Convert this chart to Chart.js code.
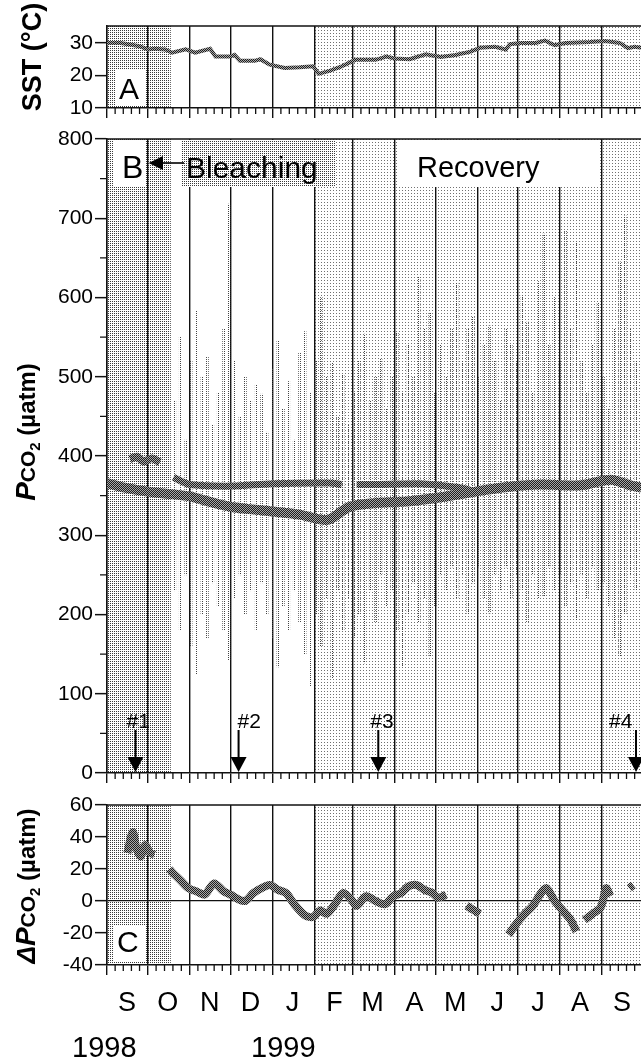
<!DOCTYPE html>
<html>
<head>
<meta charset="utf-8">
<title>SST and pCO2, 1998-1999</title>
<script src="https://cdn.jsdelivr.net/npm/chart.js@4.4.1/dist/chart.umd.min.js"></script>
<style>
  html, body { margin: 0; padding: 0; background: #fff; }
  body { width: 641px; height: 1061px; overflow: hidden; position: relative; }
  canvas { position: absolute; left: 0; }
</style>
</head>
<body>
<canvas id="sst" width="660" height="130" style="top:0px"></canvas>
<canvas id="pco2" width="660" height="680" style="top:115px"></canvas>
<canvas id="dpco2" width="660" height="281" style="top:780px"></canvas>
<script>
// days counted from 1 Sep 1998
const monthStarts = [0, 30, 61, 91, 122, 153, 181, 212, 242, 273, 303, 334, 365];
const monthLetters = ['S', 'O', 'N', 'D', 'J', 'F', 'M', 'A', 'M', 'J', 'J', 'A', 'S'];
const yearLabels = ['1998', '1999'];
const yearDays = [-2, 130];
const shadeDense = [0, 47];
const shadeLight = [153, 404];

// A: sea surface temperature
const sstDays = [0, 10, 17, 24, 30, 35, 43, 48, 58, 65, 76, 80, 91, 94, 98, 109, 113, 120, 131, 142,
  152, 156, 164, 172, 178, 183, 198, 206, 212, 223, 235, 246, 257, 268, 275, 286, 294, 297, 305, 316,
  323, 330, 338, 356, 367, 378, 384, 389, 394];
const sstVals = [30, 30, 29.5, 29, 28, 28.2, 28, 27, 28, 27, 28.2, 25.8, 25.8, 26.3, 24.5, 24.5, 25, 23.3, 22.3, 22.5,
  22.8, 20.5, 21.4, 22.6, 23.8, 24.8, 24.8, 25.8, 25.2, 25, 26.5, 25.7, 26.3, 27.3, 28.5, 28.8, 28, 29.6, 30, 30,
  30.7, 29.3, 30, 30.3, 30.6, 30, 28.4, 28.8, 28.5];
const sstTicks = [10, 20, 30];

// B: daily pCO2 range (min / max)
const rangeDays = [50, 54, 58, 62, 66, 70, 74, 78, 82, 86, 90, 94, 98, 102, 106, 110, 114, 118, 122, 126,
  130, 134, 138, 142, 146, 150, 154, 158, 162, 166, 170, 174, 178, 182, 186, 190, 194, 198, 202, 206,
  210, 214, 218, 222, 226, 230, 234, 238, 242, 246, 250, 254, 258, 262, 266, 270, 274, 278, 282, 286,
  290, 294, 298, 302, 306, 310, 314, 318, 322, 326, 330, 334, 338, 342, 346, 350, 354, 358, 362, 366,
  370, 374, 378, 382, 386, 390];
const rangeMax = [470, 550, 420, 520, 583, 500, 525, 440, 480, 560, 718, 520, 450, 500, 470, 490, 478, 430, 510, 545,
  460, 494, 420, 530, 557, 480, 520, 600, 500, 518, 450, 502, 440, 480, 520, 554, 470, 500, 522, 460,
  500, 556, 480, 540, 500, 626, 560, 581, 480, 540, 500, 560, 619, 520, 560, 575, 500, 540, 564, 520,
  470, 560, 540, 520, 602, 569, 480, 620, 680, 540, 600, 520, 684, 560, 670, 520, 480, 540, 594, 500,
  460, 560, 645, 703, 560, 520];
const rangeMin = [230, 180, 250, 160, 124, 200, 170, 240, 210, 180, 143, 220, 250, 200, 230, 181, 240, 200, 170, 134,
  210, 180, 230, 191, 150, 110, 200, 160, 220, 120, 230, 180, 220, 170, 200, 139, 230, 190, 250, 210,
  230, 180, 134, 200, 240, 190, 220, 147, 210, 250, 231, 260, 220, 250, 200, 240, 260, 220, 202, 250,
  230, 260, 220, 250, 230, 191, 250, 220, 223, 260, 230, 250, 210, 240, 193, 250, 220, 260, 230, 240,
  210, 170, 147, 200, 250, 230];

// B: smoothed daily means
const lowDays = [0, 4, 13, 30, 46, 61, 76, 91, 105, 122, 142, 157, 164, 179, 201, 223, 246, 268, 290, 319, 349, 371, 386, 394];
const lowVals = [366, 364, 360, 355, 352, 349, 342, 336, 333, 330, 326, 320, 320, 336, 341, 343, 348, 354, 360, 364, 363, 370, 363, 360];
const highDays = [49, 55, 61, 91, 122, 164, 173, 174, 184, 201, 231, 260, 270];
const highVals = [373, 368, 364, 362, 365, 366, 364, null, 364, 364, 365, 360, 356];
const earlyDays = [17, 22, 27, 33, 39];
const earlyVals = [396, 399, 393, 397, 392];
const pco2Ticks = [0, 100, 200, 300, 400, 500, 600, 700, 800];

// B: sampling events
const eventDays = [21, 97, 200, 390];
const eventLabels = ['#1', '#2', '#3', '#4'];

// C: delta pCO2
const dpDays = [15, 19, 22, 25, 28, 32, 35, 36,
  46, 48, 54, 60, 66, 72, 79, 86, 91, 97, 102, 108, 114, 120, 126, 132, 138, 146, 152, 157,
  162, 168, 174, 180, 184, 191, 198, 205, 211, 217, 222, 228, 234, 240, 244, 250, 251,
  265, 271, 275, 276,
  296, 302, 308, 314, 320, 324, 330, 336, 342, 346, 347,
  352, 358, 364, 368, 371, 372,
  385, 388];
const dpVals = [30, 43, 32, 28, 35, 30, 29, null,
  20, 18, 13, 8, 6, 4, 11, 6, 4, 1, 0, 5, 8, 10, 7, 5, -2, -9, -10, -6,
  -8, -2, 5, 1, -3, 3, 0, -2, 3, 5, 9, 10, 7, 5, 2, 4, null,
  -3, -6, -8, null,
  -21, -14, -8, -3, 5, 8, 0, -6, -12, -19, null,
  -12, -8, -4, 8, 3, null,
  8, 10];
const dpTicks = [-40, -20, 0, 20, 40, 60];

const X_MAX = 404;
const FONT = "'Liberation Sans', Arial, Helvetica, sans-serif";

const pctx = document.createElement('canvas').getContext('2d');
function pattern(size, dots, color, bg) {
  const c = document.createElement('canvas');
  c.width = c.height = size;
  const g = c.getContext('2d');
  if (bg) { g.fillStyle = bg; g.fillRect(0, 0, size, size); }
  g.fillStyle = color;
  dots.forEach(d => g.fillRect(d[0], d[1], 1, 1));
  return pctx.createPattern(c, 'repeat');
}
const densePat = pattern(2, [[0, 0]], '#3a3a3a');
const lightPat = pattern(3, [[0, 0]], '#707070');
const hatchPat = pattern(2, [[0, 0], [1, 1]], '#1e1e1e', '#a8a8a8');
const barPat = pattern(2, [[0, 0]], '#444');

function pairs(xs, ys) {
  return xs.map((x, i) => ({ x: x, y: ys[i] }));
}

function xAxis(h, showLabels) {
  return {
    type: 'linear', min: 0, max: X_MAX, z: 1, offset: false,
    afterBuildTicks: s => { s.ticks = monthStarts.map(v => ({ value: v })); },
    afterFit: s => { s.height = h; },
    grid: { offset: false, color: '#111', lineWidth: 1.4, tickLength: 10, tickColor: '#111', tickWidth: 1.4 },
    border: { color: '#111', width: 1.5 },
    ticks: {
      display: showLabels, autoSkip: false, maxRotation: 0, minRotation: 0,
      labelOffset: 20, padding: 12, color: '#000',
      font: { family: FONT, size: 27 },
      callback: (v, i) => monthLetters[i]
    }
  };
}

function yAxis(min, max, tickVals, zeroLine) {
  return {
    type: 'linear', min: min, max: max,
    afterBuildTicks: s => { s.ticks = tickVals.map(v => ({ value: v })); },
    afterFit: s => { s.width = 107; },
    grid: {
      drawOnChartArea: !!zeroLine,
      color: c => (c.tick && c.tick.value === 0) ? '#111' : 'rgba(0,0,0,0)',
      lineWidth: 1.3, tickLength: 12, tickColor: '#111', tickWidth: 1.5
    },
    border: { color: '#111', width: 1.5 },
    ticks: { color: '#000', padding: 2, font: { family: FONT, size: 21 } }
  };
}

function shade(chart) {
  const { ctx, chartArea: a, scales: { x } } = chart;
  ctx.save();
  ctx.beginPath();
  ctx.rect(a.left, a.top, a.right - a.left, a.bottom - a.top);
  ctx.clip();
  const d0 = x.getPixelForValue(shadeDense[0]), d1 = x.getPixelForValue(shadeDense[1]);
  ctx.fillStyle = densePat;
  ctx.fillRect(d0, a.top, d1 - d0, a.bottom - a.top);
  const l0 = x.getPixelForValue(shadeLight[0]), l1 = x.getPixelForValue(shadeLight[1]);
  ctx.fillStyle = lightPat;
  ctx.fillRect(l0, a.top, l1 - l0, a.bottom - a.top);
  ctx.restore();
}

function frame(chart, yMinor) {
  const { ctx, chartArea: a, scales: { x, y } } = chart;
  ctx.save();
  ctx.strokeStyle = '#111';
  ctx.lineWidth = 1.5;
  ctx.beginPath();
  ctx.moveTo(a.left, a.top);
  ctx.lineTo(a.right, a.top);
  ctx.stroke();
  ctx.lineWidth = 1.3;
  ctx.beginPath();
  monthStarts.forEach((m, i) => {
    const next = i + 1 < monthStarts.length ? monthStarts[i + 1] : m + 30;
    for (let k = 1; k < 5; k++) {
      const px = x.getPixelForValue(m + (next - m) * k / 5);
      ctx.moveTo(px, a.bottom);
      ctx.lineTo(px, a.bottom + 6);
    }
  });
  (yMinor || []).forEach(v => {
    const py = y.getPixelForValue(v);
    ctx.moveTo(a.left - 7, py);
    ctx.lineTo(a.left, py);
  });
  ctx.stroke();
  ctx.restore();
}

function axisTitle(ctx, bx, cy, parts) {
  ctx.save();
  ctx.translate(bx, cy);
  ctx.rotate(-Math.PI / 2);
  let w = 0;
  parts.forEach(p => { ctx.font = p.font; p.w = ctx.measureText(p.t).width; w += p.w; });
  let tx = -w / 2;
  ctx.fillStyle = '#000';
  ctx.textBaseline = 'alphabetic';
  parts.forEach(p => { ctx.font = p.font; ctx.fillText(p.t, tx, p.dy || 0); tx += p.w; });
  ctx.restore();
}

function panelLetter(ctx, letter, box, baseX, baseY, size) {
  ctx.save();
  ctx.fillStyle = '#fff';
  ctx.fillRect(box[0], box[1], box[2], box[3]);
  ctx.fillStyle = '#000';
  ctx.font = size + 'px ' + FONT;
  ctx.textBaseline = 'alphabetic';
  ctx.fillText(letter, baseX, baseY);
  ctx.restore();
}

const pco2Parts = [
  { t: 'P', font: 'italic bold 28px ' + FONT },
  { t: 'CO', font: 'bold 21px ' + FONT },
  { t: '2', font: 'bold 15px ' + FONT, dy: 5 },
  { t: ' (\u00b5atm)', font: 'bold 24px ' + FONT }
];

const common = {
  responsive: false, animation: false, devicePixelRatio: 1,
  plugins: { legend: { display: false }, tooltip: { enabled: false } }
};

// ---------- A ----------
new Chart(document.getElementById('sst'), {
  type: 'line',
  data: {
    datasets: [{
      data: pairs(sstDays, sstVals), borderColor: hatchPat, borderWidth: 4,
      pointRadius: 0, tension: 0
    }]
  },
  options: Object.assign({}, common, {
    layout: { padding: { top: 26, right: 5, left: 0, bottom: 0 } },
    scales: { x: xAxis(22, false), y: yAxis(10, 35.2, sstTicks, false) }
  }),
  plugins: [{
    id: 'decorA',
    beforeDraw: shade,
    afterDraw(chart) {
      frame(chart);
      const ctx = chart.ctx;
      panelLetter(ctx, 'A', [115, 70, 31, 36], 119, 99, 30);
      axisTitle(ctx, 41, 57, [{ t: 'SST (\u00b0C)', font: 'bold 27px ' + FONT }]);
    }
  }]
});

// ---------- B ----------
new Chart(document.getElementById('pco2'), {
  data: {
    datasets: [
      { type: 'line', data: pairs(lowDays, lowVals), borderColor: hatchPat, borderWidth: 10,
        pointRadius: 0, tension: 0.3, order: 1 },
      { type: 'line', data: pairs(highDays, highVals), borderColor: hatchPat, borderWidth: 7,
        pointRadius: 0, tension: 0.3, spanGaps: false, order: 1 },
      { type: 'line', data: pairs(earlyDays, earlyVals), borderColor: hatchPat, borderWidth: 8,
        pointRadius: 0, tension: 0.3, order: 1 },
      { type: 'bar', data: rangeDays.map((d, i) => ({ x: d, y: [rangeMin[i], rangeMax[i]] })),
        backgroundColor: barPat, barThickness: 2, order: 2 }
    ]
  },
  options: Object.assign({}, common, {
    layout: { padding: { top: 24, right: 5, left: 0, bottom: 0 } },
    scales: { x: xAxis(22, false), y: yAxis(0, 800, pco2Ticks, false) }
  }),
  plugins: [{
    id: 'decorB',
    beforeDraw: shade,
    afterDraw(chart) {
      const { ctx, chartArea: a, scales: { x } } = chart;
      frame(chart, [50, 150, 250, 350, 450, 550, 650, 750]);
      const top = a.top + 1;
      panelLetter(ctx, 'B', [113, top, 33, 46], 122, top + 38, 32);
      // Bleaching label
      ctx.save();
      ctx.fillStyle = '#fff';
      ctx.fillRect(182, top, 153, 47);
      ctx.fillStyle = densePat;
      ctx.fillRect(182, top, 153, 47);
      ctx.fillStyle = '#000';
      ctx.font = '30px ' + FONT;
      ctx.fillText('Bleaching', 186, top + 38);
      ctx.strokeStyle = '#000';
      ctx.lineWidth = 1.6;
      ctx.beginPath();
      ctx.moveTo(161, top + 23);
      ctx.lineTo(184, top + 23);
      ctx.stroke();
      ctx.beginPath();
      ctx.moveTo(x.getPixelForValue(monthStarts[1]) + 1, top + 23);
      ctx.lineTo(163, top + 16);
      ctx.lineTo(163, top + 30);
      ctx.closePath();
      ctx.fill();
      // Recovery label
      ctx.fillStyle = '#fff';
      ctx.fillRect(398, top, 200, 47);
      ctx.fillStyle = '#000';
      ctx.font = '29px ' + FONT;
      ctx.fillText('Recovery', 417, top + 37);
      // sampling arrows
      const offs = [-9, -1, -8, -27];
      eventDays.forEach((d, i) => {
        const px = x.getPixelForValue(d);
        ctx.fillStyle = '#000';
        ctx.fillRect(px - 1, a.bottom - 43, 2, 28);
        ctx.beginPath();
        ctx.moveTo(px - 8, a.bottom - 16);
        ctx.lineTo(px + 8, a.bottom - 16);
        ctx.lineTo(px, a.bottom - 1);
        ctx.closePath();
        ctx.fill();
        ctx.font = '21px ' + FONT;
        ctx.fillText(eventLabels[i], px + offs[i], a.bottom - 45);
      });
      ctx.restore();
      axisTitle(ctx, 35, 317, pco2Parts);
    }
  }]
});

// ---------- C ----------
new Chart(document.getElementById('dpco2'), {
  type: 'line',
  data: {
    datasets: [{
      data: pairs(dpDays, dpVals), borderColor: hatchPat, borderWidth: 8,
      pointRadius: 0, tension: 0.3, spanGaps: false
    }]
  },
  options: Object.assign({}, common, {
    layout: { padding: { top: 25, right: 5, left: 0, bottom: 0 } },
    scales: { x: xAxis(96, true), y: yAxis(-40, 60, dpTicks, true) }
  }),
  plugins: [{
    id: 'decorC',
    beforeDraw: shade,
    afterDraw(chart) {
      const { ctx, chartArea: a, scales: { x } } = chart;
      frame(chart);
      panelLetter(ctx, 'C', [113, 145, 32, 37], 117, 172, 30);
      ctx.save();
      ctx.fillStyle = '#000';
      ctx.font = '29px ' + FONT;
      ctx.textAlign = 'center';
      yearLabels.forEach((t, i) => ctx.fillText(t, x.getPixelForValue(yearDays[i]), 277));
      ctx.restore();
      axisTitle(ctx, 35, 106, [{ t: '\u0394', font: 'italic bold 26px ' + FONT }].concat(pco2Parts));
    }
  }]
});
</script>
</body>
</html>
